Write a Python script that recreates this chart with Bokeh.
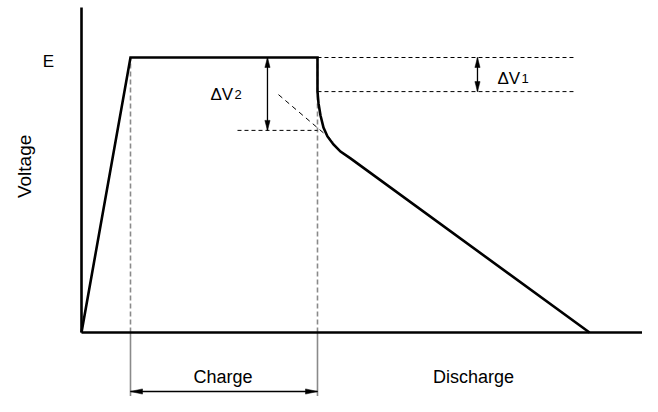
import math
from bokeh.plotting import figure
from bokeh.models import Range1d
from bokeh.core.properties import value
from bokeh.embed import file_html
from bokeh.resources import INLINE

# ---- data (time in arbitrary units, voltage normalised so that E = 1) ----
curve_t = [0.0, 0.858, 4.133, 4.133, 4.151, 4.186, 4.238, 4.308, 4.413, 4.536, 4.711, 8.897]
curve_v = [0.0, 1.0, 1.0, 0.876, 0.833, 0.789, 0.745, 0.713, 0.684, 0.658, 0.633, 0.0]
E_level = 1.0
charge_start = 0.858
charge_end = 4.133
dv1_level = 0.876
dv2_level = 0.735
dash_end_t = 8.616
dv2_dash_start = 2.732
dv1_arrow_t = 6.935
dv2_arrow_t = 3.257
tangent_t = [3.45, 4.413]
tangent_v = [0.865, 0.695]
axis_t_max = 10.0
axis_v_max = 1.182
charge_arrow_v = -0.2145
below_v = -0.30

labels_main = ["Charge", "Discharge"]
labels_main_t = [2.48, 6.865]
labels_main_v = [-0.16, -0.16]

W, H = 642, 396
xr = Range1d(-1.4186, 9.825)
yr = Range1d(-0.2327, 1.2073)

p = figure(width=W, height=H, x_range=xr, y_range=yr, output_backend="svg",
           toolbar_location=None, x_axis_type=None, y_axis_type=None,
           min_border=0, min_border_left=0, min_border_right=0,
           min_border_top=0, min_border_bottom=0)
p.outline_line_color = None
p.background_fill_color = "white"
p.border_fill_color = "white"

sx = W / (xr.end - xr.start)
sy = H / (yr.end - yr.start)

FONT = value("Liberation Sans")

# gray guide lines at charge start/end
for t in (charge_start, charge_end):
    p.line([t, t], [0, E_level], line_color="#8a8a8a", line_width=1.6, line_dash="5 3")
    p.line([t, t], [below_v, 0], line_color="#8a8a8a", line_width=1.6)

# black dashed helper lines
dash = dict(line_color="black", line_width=1, line_dash="4 3")
p.line([charge_end, dash_end_t], [E_level, E_level], **dash)
p.line([charge_end, dash_end_t], [dv1_level, dv1_level], **dash)
p.line([dv2_dash_start, charge_end], [dv2_level, dv2_level], **dash)
p.line(tangent_t, tangent_v, line_color="black", line_width=1, line_dash="5 4")

# axes
p.line([0, 0], [0, axis_v_max], line_color="black", line_width=2.6, line_cap="butt")
p.line([0, axis_t_max], [0, 0], line_color="black", line_width=2.6, line_cap="butt")

# voltage curve
p.line(curve_t, curve_v, line_color="black", line_width=2.6, line_join="miter")


def head(tx, ty, dx, dy, L=11, w=2.6):
    bx = tx - dx * L / sx
    by = ty - dy * L / sy
    xs = [tx, bx - dy * w / sx, bx + dy * w / sx]
    ys = [ty, by + dx * w / sy, by - dx * w / sy]
    return xs, ys


hx, hy = [], []


def darrow_v(t, v0, v1, L=10):
    p.line([t, t], [v0, v1], line_color="black", line_width=1.3)
    a = head(t, v1, 0, 1, L=L)
    b = head(t, v0, 0, -1, L=L)
    hx.extend([a[0], b[0]])
    hy.extend([a[1], b[1]])


def darrow_h(v, t0, t1, L=12):
    p.line([t0, t1], [v, v], line_color="black", line_width=1.3)
    a = head(t1, v, 1, 0, L=L)
    b = head(t0, v, -1, 0, L=L)
    hx.extend([a[0], b[0]])
    hy.extend([a[1], b[1]])


darrow_v(dv1_arrow_t, dv1_level, E_level)
darrow_v(dv2_arrow_t, dv2_level, E_level)
darrow_h(charge_arrow_v, charge_start, charge_end)
p.patches(hx, hy, fill_color="black", line_color="black", line_width=0.5)

# texts
p.text(x=[-0.578], y=[0.985], text=["E"], text_font=FONT, text_font_size=value("17px"),
       text_align="center", text_baseline="middle", text_color="black")
p.text(x=[-1.0], y=[0.604], text=["Voltage"], angle=math.pi / 2, text_font=FONT,
       text_font_size=value("19px"), text_align="center", text_baseline="middle",
       text_color="black")
p.text(x=[7.285, 2.259], y=[0.925, 0.864], text=["ΔV", "ΔV"], text_font=FONT,
       text_font_size=value("17px"), text_align="left", text_baseline="alphabetic",
       text_color="black")
p.text(x=[7.706, 2.680], y=[0.925, 0.864], text=["1", "2"], text_font=FONT,
       text_font_size=value("13px"), text_align="left", text_baseline="alphabetic",
       text_color="black")
p.text(x=labels_main_t, y=labels_main_v, text=labels_main, text_font=FONT,
       text_font_size=value("18px"), text_align="center", text_baseline="alphabetic",
       text_color="black")

open("out.html", "w").write(file_html(p, INLINE))
